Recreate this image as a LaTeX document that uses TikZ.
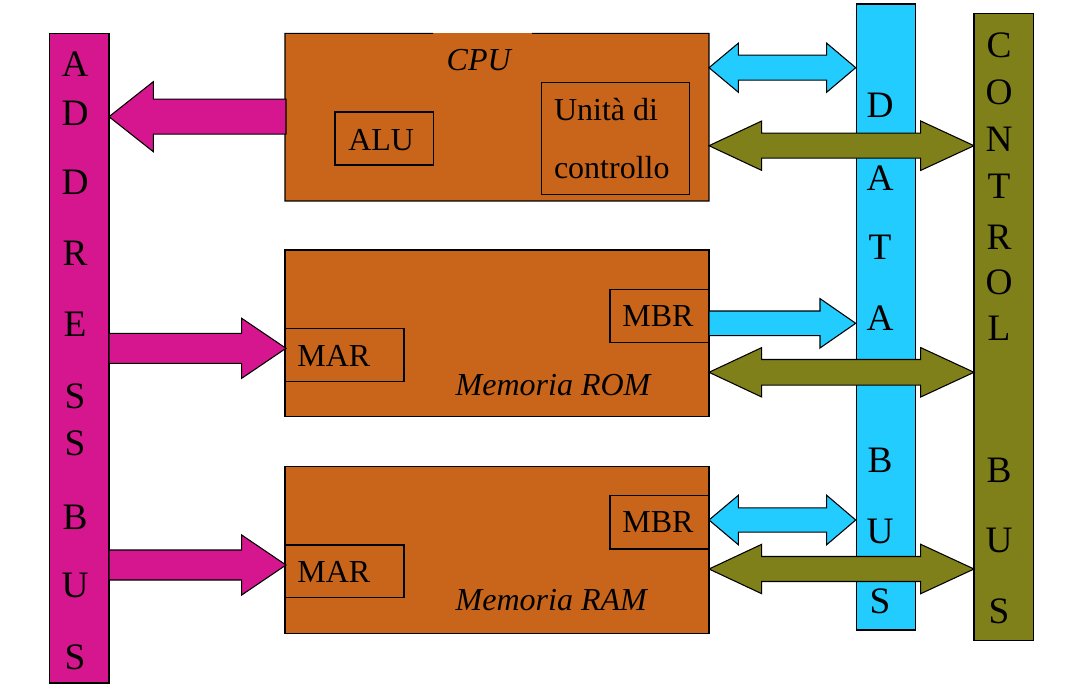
\documentclass[tikz,border=0pt]{standalone}
\usepackage{fontspec}
\setmainfont{Liberation Serif}
\usetikzlibrary{fit}
\definecolor{boxorange}{RGB}{201,101,26}
\definecolor{addrmag}{RGB}{214,22,142}
\definecolor{datacyan}{RGB}{34,204,255}
\definecolor{ctrlolive}{RGB}{128,128,26}
\tikzset{
  blk/.style={draw=black, line width=0.8pt, inner sep=0pt, outer sep=0pt},
  reg/.style={blk, draw=black},
  txt/.style={inner sep=0pt, outer sep=0pt, font=\fontsize{24}{28}\selectfont},
  itxt/.style={txt, font=\fontsize{24}{28}\selectfont\itshape},
  bl/.style={inner sep=0pt, outer sep=0pt, font=\fontsize{28}{32}\selectfont},
  arr/.style={draw=black, line width=0.8pt, line join=miter}
}
% single arrow: color, x tail, x head base, x tip, y, shaft half, head half
\newcommand\blkarrow[7]{%
  \filldraw[arr, fill=#1] (#2,#5-#6) -- (#3,#5-#6) -- (#3,#5-#7) -- (#4,#5)
    -- (#3,#5+#7) -- (#3,#5+#6) -- (#2,#5+#6) -- cycle;}
% double arrow: color, x left tip, x left base, x right base, x right tip, y, shaft half, head half
\newcommand\dblarrow[8]{%
  \filldraw[arr, fill=#1] (#2,#6) -- (#3,#6-#8) -- (#3,#6-#7) -- (#4,#6-#7) -- (#4,#6-#8)
    -- (#5,#6) -- (#4,#6+#8) -- (#4,#6+#7) -- (#3,#6+#7) -- (#3,#6+#8) -- cycle;}
\begin{document}
\begin{tikzpicture}[x=0.75pt, y=-0.75pt]
\useasboundingbox (0,0) rectangle (1066,692);

% address bus
\node[blk, fill=addrmag, fit={(49.3,33.3) (109,683)}] (abus) {};
\foreach \l/\y in {A/64.5, D/113, D/182.5, R/253, E/324, S/396, S/443, B/517, U/585, S/657}
  \node[bl] at (75,\y) {\l};

% CPU
\node[fill=boxorange, inner sep=0pt, outer sep=0pt, fit={(285,33.3) (709,201)}] (cpu) {};
\draw[line width=0.8pt] (433,33.3) -- (cpu.north west) -- (cpu.south west) -- (cpu.south east) -- (cpu.north east) -- (532,33.3);
\node[reg, fit={(335,112) (433.7,165)}] (alu) {};
\node[reg, fit={(541.7,82.3) (689.3,194.3)}] (cu) {};
\node[itxt, anchor=base west] (cputxt) at (446.7,70.7) {CPU};
\node[txt, anchor=base west] (alutxt) at (348.3,150) {ALU};
\node[txt, anchor=base west] (cutxt1) at (554,120) {Unità di};
\node[txt, anchor=base west] (cutxt2) at (554,178.3) {controllo};

% ROM
\node[blk, fill=boxorange, fit={(285,250) (709,416.7)}] (rom) {};
\node[reg, fit={(610,289.3) (709,342.3)}] (rommbr) {};
\node[reg, fit={(285,328.3) (404,381.7)}] (rommar) {};
\node[txt, anchor=base west] at (297.3,366) {MAR};
\node[txt, anchor=base west] at (622.3,326.7) {MBR};
\node[itxt, anchor=base west] at (455.7,395) {Memoria ROM};

% RAM
\node[blk, fill=boxorange, fit={(285,466.7) (709,633.3)}] (ram) {};
\node[reg, fit={(610,495.7) (709,549)}] (rammbr) {};
\node[reg, fit={(285,545) (404,597.7)}] (rammar) {};
\node[txt, anchor=base west] at (297.3,582.7) {MAR};
\node[txt, anchor=base west] at (622.3,532.7) {MBR};
\node[itxt, anchor=base west] at (455.7,610) {Memoria RAM};

% data bus
\node[blk, fill=datacyan, fit={(856.7,4) (915.7,630)}] (dbus) {};
\foreach \l/\y in {D/105.7, A/178, T/247.5, A/318, B/460, U/531.5, S/601.5}
  \node[bl] at (880,\y) {\l};

% control bus
\node[blk, fill=ctrlolive, fit={(974,13.7) (1033.7,640.7)}] (cbus) {};
\foreach \l/\y in {C/45, O/92.5, N/139, T/186.7, R/237, O/282.5, L/328, B/470, U/540.5, S/611.5}
  \node[bl] at (999,\y) {\l};

% address arrows
\blkarrow{addrmag}{286}{153.3}{109}{116.7}{17.5}{35}
\blkarrow{addrmag}{109}{241.7}{286}{348.3}{15}{30}
\blkarrow{addrmag}{109}{241.7}{286}{565}{15}{30}

% data arrows
\dblarrow{datacyan}{709}{738.3}{826.7}{855.7}{67.7}{12.5}{24.5}
\blkarrow{datacyan}{709}{820}{855.7}{323.3}{12.3}{24.7}
\dblarrow{datacyan}{709}{738.3}{826.7}{855.7}{520}{12.2}{24.7}

% control arrows
\dblarrow{ctrlolive}{709}{761.7}{920.7}{974}{145.7}{12.5}{24.7}
\dblarrow{ctrlolive}{709}{761.7}{920.7}{974}{372.3}{12.8}{24.7}
\dblarrow{ctrlolive}{709}{761.7}{920.7}{974}{569}{12.5}{24.7}
\end{tikzpicture}
\end{document}
